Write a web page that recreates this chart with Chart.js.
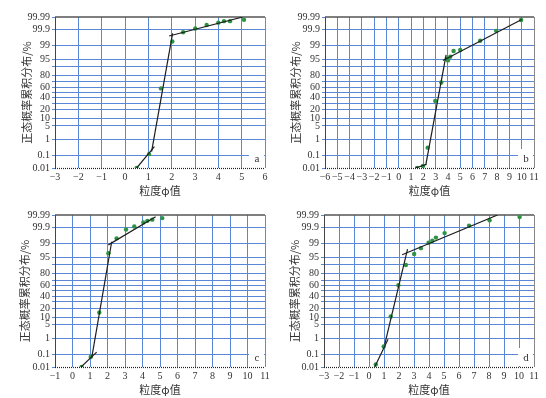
<!DOCTYPE html>
<html>
<head>
<meta charset="utf-8">
<script src="https://cdn.jsdelivr.net/npm/chart.js@4.4.1/dist/chart.umd.min.js"></script>
<style>
body { margin: 0; background: #fff; width: 546px; height: 398px; position: relative; overflow: hidden; }
.panel { position: absolute; width: 273px; height: 199px; }
</style>
</head>
<body>
<div class="panel" style="left:0;top:0"><canvas id="chartA" width="273" height="199"></canvas></div>
<div class="panel" style="left:273px;top:0"><canvas id="chartB" width="273" height="199"></canvas></div>
<div class="panel" style="left:0;top:199px"><canvas id="chartC" width="273" height="199"></canvas></div>
<div class="panel" style="left:273px;top:199px"><canvas id="chartD" width="273" height="199"></canvas></div>
<script>
// probability axis grid values and their labels (blank = grid line only)
const probTicks = [0.01, 0.1, 1, 5, 10, 20, 30, 40, 50, 60, 70, 80, 90, 95, 99, 99.9, 99.99];
const probLabels = ['0.01', '0.1', '1', '5', '10', '20', '', '40', '', '60', '', '80', '', '95', '99', '99.9', '99.99'];

// panel a
const aPhi = [0.5, 1.03, 1.54, 2.03, 2.49, 3.01, 3.5, 4.0, 4.24, 4.5, 5.1];
const aCum = [0.01, 0.12, 58, 99.4, 99.85, 99.92, 99.956, 99.971, 99.978, 99.978, 99.983];
const aFitPhi = [[0.5, 1.26], [1.14, 2.04], [1.89, 5.05]];
const aFitCum = [[0.01, 0.38], [0.18, 99.82], [99.73, 99.99]];

// panel b
const bPhi = [1.49, 1.97, 2.35, 2.97, 3.46, 3.9, 4.0, 4.19, 4.46, 5.0, 6.62, 7.92, 9.95];
const bCum = [0.01, 0.015, 0.33, 33.7, 69, 95.2, 94.3, 96.1, 97.96, 98.2, 99.46, 99.88, 99.982];
const bFitPhi = [[1.35, 2.25], [2.2, 3.85], [3.6, 10.0]];
const bFitCum = [[0.01, 0.02], [0.018, 96.8], [94.2, 99.984]];

// panel c
const cPhi = [0.52, 1.04, 1.53, 2.05, 2.52, 3.06, 3.53, 4.05, 4.28, 4.56, 5.13];
const cCum = [0.01, 0.062, 14.6, 96.8, 99.5, 99.87, 99.92, 99.96, 99.97, 99.976, 99.982];
const cFitPhi = [[0.49, 1.38], [1.1, 2.24], [2.05, 4.75]];
const cFitCum = [[0.01, 0.14], [0.056, 99.2], [98.8, 99.986]];

// panel d
const dPhi = [0.45, 0.98, 1.45, 1.96, 2.46, 3.01, 3.46, 3.97, 4.22, 4.46, 5.04, 6.67, 8.04, 10.04];
const dCum = [0.016, 0.33, 10.6, 61, 89.8, 96.5, 98.2, 99.1, 99.3, 99.55, 99.77, 99.93, 99.973, 99.985];
const dFitPhi = [[0.38, 1.27], [1.05, 2.57], [2.21, 8.57]];
const dFitCum = [[0.01, 0.9], [0.45, 98], [96.2, 99.99]];

const xRanges = { a: [-3, 6], b: [-6, 11], c: [-1, 11], d: [-3, 11] };

const gridBlue = '#5b88d6';

// inverse normal CDF (Acklam), p in percent
function probit(pct) {
    const p = pct / 100;
    const a = [-39.69683028665376, 220.9460984245205, -275.9285104469687, 138.357751867269, -30.66479806614716, 2.506628277459239];
    const b = [-54.47609879822406, 161.5858368580409, -155.6989798598866, 66.80131188771972, -13.28068155288572];
    const c = [-0.007784894002430293, -0.3223964580411365, -2.400758277161838, -2.549732539343734, 4.374664141464968, 2.938163982698783];
    const d = [0.007784695709041462, 0.3224671290700398, 2.445134137142996, 3.754408661907416];
    const pl = 0.02425;
    let q, r;
    if (p < pl) {
        q = Math.sqrt(-2 * Math.log(p));
        return (((((c[0]*q+c[1])*q+c[2])*q+c[3])*q+c[4])*q+c[5]) / ((((d[0]*q+d[1])*q+d[2])*q+d[3])*q+1);
    }
    if (p <= 1 - pl) {
        q = p - 0.5; r = q * q;
        return (((((a[0]*r+a[1])*r+a[2])*r+a[3])*r+a[4])*r+a[5])*q / (((((b[0]*r+b[1])*r+b[2])*r+b[3])*r+b[4])*r+1);
    }
    q = Math.sqrt(-2 * Math.log(1 - p));
    return -(((((c[0]*q+c[1])*q+c[2])*q+c[3])*q+c[4])*q+c[5]) / ((((d[0]*q+d[1])*q+d[2])*q+d[3])*q+1);
}

// frame: dotted bottom axis, dark top edge, grey right edge, letter in a white box
const frame = {
    id: 'frame',
    beforeDatasetsDraw(chart, args, opts) {
        const { ctx, chartArea: a } = chart;
        ctx.save();
        ctx.fillStyle = '#fff';
        ctx.fillRect(a.right - 16, a.bottom - 19, 15, 18);
        ctx.fillStyle = '#333';
        ctx.font = '11px "Liberation Serif"';
        ctx.textAlign = 'center';
        ctx.textBaseline = 'middle';
        ctx.fillText(opts.text, a.right - 8, a.bottom - 9);

        ctx.strokeStyle = '#555';
        ctx.lineWidth = 1.5;
        ctx.beginPath();
        ctx.moveTo(a.left, a.top);
        ctx.lineTo(a.right, a.top);
        ctx.stroke();
        ctx.strokeStyle = '#888';
        ctx.lineWidth = 1;
        ctx.beginPath();
        ctx.moveTo(a.right + 0.5, a.top);
        ctx.lineTo(a.right + 0.5, a.bottom);
        ctx.stroke();
        ctx.strokeStyle = '#222';
        ctx.lineWidth = 1.2;
        ctx.setLineDash([1, 1]);
        ctx.beginPath();
        ctx.moveTo(a.left, a.bottom + 0.5);
        ctx.lineTo(a.right, a.bottom + 0.5);
        ctx.stroke();
        ctx.restore();
    }
};

function makePanel(id, letter, phi, cum, fitPhi, fitCum, range, box) {
    const datasets = [];
    fitPhi.forEach((seg, i) => {
        datasets.push({
            data: seg.map((x, j) => ({ x: x, y: probit(fitCum[i][j]) })),
            showLine: true,
            borderColor: '#1e1e1e',
            borderWidth: 1.2,
            pointRadius: 0
        });
    });
    datasets.push({
        data: phi.map((x, i) => ({ x: x, y: probit(cum[i]) })),
        pointRadius: 2.2,
        pointBackgroundColor: '#2e9444',
        pointBorderWidth: 0
    });

    new Chart(document.getElementById(id), {
        type: 'scatter',
        data: { datasets: datasets },
        plugins: [frame],
        options: {
            responsive: false,
            animation: false,
            layout: { padding: { top: box.top, right: 273 - box.right, left: 0, bottom: 0 } },
            plugins: { legend: { display: false }, tooltip: { enabled: false }, frame: { text: letter } },
            scales: {
                x: {
                    type: 'linear',
                    min: range[0],
                    max: range[1],
                    afterFit: s => { s.height = 199 - box.bottom; },
                    ticks: {
                        stepSize: 1,
                        autoSkip: false,
                        maxRotation: 0,
                        padding: 3,
                        color: '#333',
                        font: { family: '"Liberation Serif"', size: 10 },
                        callback: v => v < 0 ? '\u2212' + Math.abs(v) : String(v)
                    },
                    grid: {
                        drawTicks: false,
                        color: c => (c.tick && (c.tick.value === range[0] || c.tick.value === range[1])) ? 'rgba(0,0,0,0)' : gridBlue,
                        lineWidth: 1
                    },
                    border: { display: false },
                    title: {
                        display: true,
                        text: '粒度φ值',
                        color: '#333',
                        font: { family: '"Noto Sans CJK SC"', size: 11 },
                        padding: { top: 0, bottom: 2 }
                    }
                },
                y: {
                    type: 'linear',
                    min: probit(probTicks[0]),
                    max: probit(probTicks[probTicks.length - 1]),
                    afterFit: s => { s.width = box.left; },
                    afterBuildTicks: s => { s.ticks = probTicks.map(p => ({ value: probit(p) })); },
                    ticks: {
                        autoSkip: false,
                        padding: 2,
                        color: '#333',
                        font: { family: '"Liberation Serif"', size: 10 },
                        callback: (v, i) => probLabels[i]
                    },
                    grid: {
                        tickLength: 3,
                        tickColor: gridBlue,
                        color: c => (c.index === 0 || c.index === probTicks.length - 1) ? 'rgba(0,0,0,0)' : gridBlue,
                        lineWidth: 1
                    },
                    border: { color: '#444', width: 1 },
                    title: {
                        display: true,
                        text: '正态概率累积分布/%',
                        color: '#333',
                        font: { family: '"Noto Sans CJK SC"', size: 11 },
                        padding: { top: box.titleX - 6.6, bottom: 0 }
                    }
                }
            }
        }
    });
}

makePanel('chartA', 'a', aPhi, aCum, aFitPhi, aFitCum, xRanges.a, { left: 55, right: 265, top: 17, bottom: 168, titleX: 27 });
makePanel('chartB', 'b', bPhi, bCum, bFitPhi, bFitCum, xRanges.b, { left: 52, right: 261, top: 17, bottom: 168, titleX: 23 });
makePanel('chartC', 'c', cPhi, cCum, cFitPhi, cFitCum, xRanges.c, { left: 55, right: 265, top: 16, bottom: 168, titleX: 25 });
makePanel('chartD', 'd', dPhi, dCum, dFitPhi, dFitCum, xRanges.d, { left: 51, right: 261, top: 16, bottom: 168, titleX: 22 });
</script>
</body>
</html>
